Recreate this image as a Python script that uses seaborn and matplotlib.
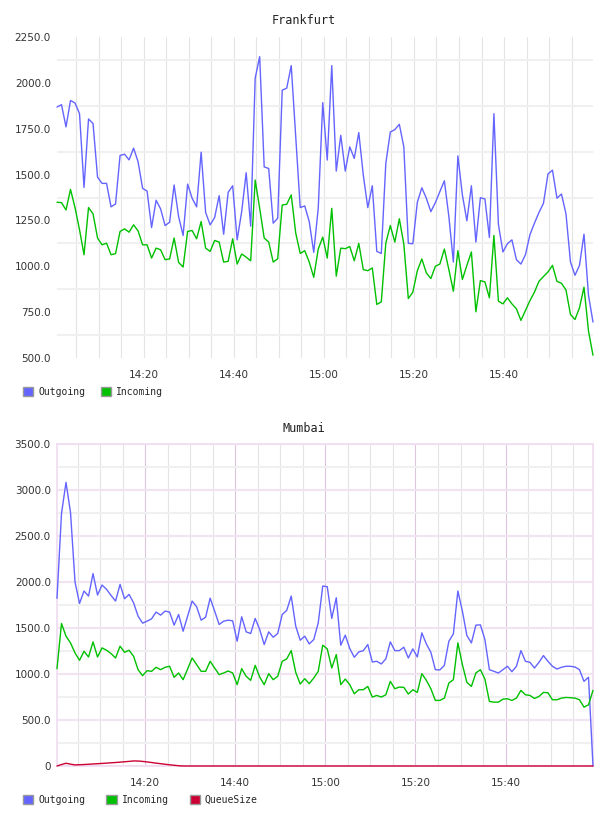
import matplotlib
matplotlib.use('Agg')
import matplotlib.pyplot as plt
import matplotlib.dates as mdates
from matplotlib.patches import Patch
from matplotlib.ticker import FixedLocator, FuncFormatter
from matplotlib.font_manager import FontProperties
import seaborn as sns
import pandas as pd

sns.set_style('white')
plt.rcParams['font.family'] = ['DejaVu Sans']

# ---------------- data ----------------
series_names = ['Outgoing', 'Incoming', 'QueueSize']
series_colors = ['#6464ff', '#00c000', '#cc0033']

fra_times = pd.date_range('2024-01-01 14:00:45', periods=120, freq='min')
mum_times = pd.date_range('2024-01-01 14:00:25', periods=120, freq='min')

fra_out = [1868, 1881, 1760, 1904, 1890, 1832, 1430, 1803, 1778, 1486,
           1452, 1452, 1324, 1340, 1604, 1611, 1580, 1644, 1570, 1425,
           1410, 1211, 1360, 1313, 1222, 1240, 1443, 1271, 1168, 1448,
           1371, 1324, 1622, 1293, 1226, 1266, 1385, 1175, 1403, 1439,
           1144, 1298, 1510, 1219, 2026, 2143, 1542, 1533, 1235, 1262,
           1960, 1971, 2094, 1707, 1320, 1329, 1244, 1076, 1316, 1892,
           1579, 2094, 1519, 1714, 1519, 1651, 1588, 1729, 1497, 1320,
           1439, 1081, 1070, 1561, 1732, 1745, 1774, 1651, 1125, 1123,
           1349, 1428, 1371, 1298, 1347, 1407, 1466, 1271, 1023, 1602,
           1389, 1248, 1439, 1132, 1374, 1367, 1157, 1832, 1229, 1078,
           1123, 1144, 1036, 1012, 1063, 1172, 1235, 1293, 1343, 1503,
           1524, 1371, 1394, 1286, 1023, 951, 1005, 1175, 842, 696]

fra_in = [1349, 1347, 1307, 1419, 1320, 1199, 1063, 1320, 1286, 1154,
          1117, 1126, 1063, 1069, 1190, 1204, 1186, 1226, 1193, 1117,
          1117, 1045, 1099, 1090, 1036, 1040, 1154, 1021, 996, 1190,
          1195, 1150, 1244, 1099, 1081, 1141, 1132, 1023, 1027, 1150,
          1012, 1067, 1050, 1030, 1470, 1316, 1154, 1132, 1023, 1041,
          1334, 1338, 1389, 1181, 1070, 1085, 1023, 940, 1094, 1159,
          1045, 1316, 946, 1099, 1096, 1108, 1030, 1125, 982, 976,
          991, 792, 806, 1126, 1222, 1132, 1259, 1121, 824, 859,
          976, 1040, 964, 933, 1000, 1012, 1094, 982, 864, 1085,
          928, 1005, 1078, 752, 922, 915, 828, 1168, 810, 795,
          828, 795, 768, 705, 759, 813, 859, 918, 944, 969,
          1005, 918, 907, 871, 737, 710, 774, 886, 647, 515]

mum_out = [1822, 2745, 3083, 2756, 2000, 1767, 1902, 1847, 2091, 1858,
           1967, 1920, 1854, 1793, 1974, 1818, 1865, 1774, 1629, 1553,
           1574, 1600, 1673, 1640, 1684, 1673, 1531, 1647, 1465, 1629,
           1793, 1731, 1585, 1618, 1825, 1684, 1538, 1574, 1585, 1578,
           1356, 1622, 1458, 1440, 1604, 1484, 1320, 1458, 1400, 1440,
           1647, 1691, 1847, 1520, 1367, 1411, 1327, 1374, 1556, 1956,
           1949, 1604, 1829, 1313, 1422, 1276, 1182, 1240, 1254, 1320,
           1131, 1138, 1109, 1164, 1349, 1254, 1254, 1291, 1174, 1273,
           1185, 1447, 1327, 1236, 1047, 1044, 1094, 1356, 1436, 1902,
           1684, 1418, 1338, 1531, 1534, 1374, 1047, 1029, 1011, 1047,
           1084, 1025, 1084, 1254, 1138, 1127, 1065, 1127, 1200, 1138,
           1084, 1054, 1073, 1084, 1084, 1076, 1047, 920, 964, 0]

mum_in = [1058, 1549, 1411, 1338, 1229, 1149, 1247, 1185, 1349, 1185,
          1284, 1258, 1222, 1174, 1302, 1236, 1258, 1193, 1047, 982,
          1036, 1029, 1073, 1047, 1073, 1084, 964, 1011, 938, 1054,
          1174, 1102, 1029, 1029, 1138, 1065, 993, 1011, 1033, 1011,
          884, 1058, 975, 931, 1094, 967, 884, 1004, 938, 975,
          1138, 1164, 1254, 1018, 891, 949, 895, 956, 1029, 1313,
          1273, 1065, 1211, 884, 945, 884, 785, 829, 829, 865,
          749, 767, 749, 774, 920, 840, 858, 855, 782, 829,
          800, 1004, 931, 840, 713, 713, 738, 902, 938, 1338,
          1102, 909, 865, 1011, 1047, 945, 702, 694, 694, 727,
          731, 713, 738, 822, 774, 767, 734, 756, 800, 796,
          720, 720, 738, 745, 742, 738, 720, 640, 665, 822]

mum_queue = [0, 16, 30, 20, 12, 14, 16, 19, 22, 25,
             28, 31, 35, 38, 42, 46, 50, 55, 54, 50,
             44, 38, 31, 25, 19, 13, 8, 3, 0, 0,
             0, 0, 0, 0, 0, 0, 0, 0, 0, 0,
             0, 0, 0, 0, 0, 0, 0, 0, 0, 0,
             0, 0, 0, 0, 0, 0, 0, 0, 0, 0,
             0, 0, 0, 0, 0, 0, 0, 0, 0, 0,
             0, 0, 0, 0, 0, 0, 0, 0, 0, 0,
             0, 0, 0, 0, 0, 0, 0, 0, 0, 0,
             0, 0, 0, 0, 0, 0, 0, 0, 0, 0,
             0, 0, 0, 0, 0, 0, 0, 0, 0, 0,
             0, 0, 0, 0, 0, 0, 0, 0, 0, 0]

fra_yticks = [500, 750, 1000, 1250, 1500, 1750, 2000, 2250]
mum_yticks = [0, 500, 1000, 1500, 2000, 2500, 3000, 3500]


def long_frame(times, cols):
    parts = []
    for name, vals in cols:
        parts.append(pd.DataFrame({'time': times, 'value': vals, 'series': name}))
    return pd.concat(parts, ignore_index=True)


fra_df = long_frame(fra_times, [('Outgoing', fra_out), ('Incoming', fra_in)])
mum_df = long_frame(mum_times, [('Outgoing', mum_out), ('Incoming', mum_in),
                                ('QueueSize', mum_queue)])

# ---------------- figure ----------------
W, H = 608, 816
fig = plt.figure(figsize=(W / 100, H / 100), dpi=100)
fig.patch.set_facecolor('white')


def fy(px):
    return 1 - px / H


ax1 = fig.add_axes([57 / W, fy(358), 536 / W, 321 / H])
ax2 = fig.add_axes([57 / W, fy(766), 536 / W, 322 / H])

mono = FontProperties(family='DejaVu Sans Mono', size=7)
palette = dict(zip(series_names, series_colors))


def yfmt(v, pos):
    return '0' if v == 0 else f'{v:.1f}'


def style(ax, df, times, yticks, pink):
    sns.lineplot(data=df, x='time', y='value', hue='series', palette=palette,
                 ax=ax, legend=False, linewidth=1.0, estimator=None,
                 sort=False)
    for ln in ax.lines:
        ln.set_clip_on(False)
        ln.set_zorder(4)
    ax.set_xlim(times[0], times[-1])
    ax.set_ylim(yticks[0], yticks[-1])
    ax.set_xlabel('')
    ax.set_ylabel('')
    ax.yaxis.set_major_locator(FixedLocator(yticks))
    mids = [(a + b) / 2 for a, b in zip(yticks[:-1], yticks[1:])]
    ax.yaxis.set_minor_locator(FixedLocator(mids))
    ax.yaxis.set_major_formatter(FuncFormatter(yfmt))
    ax.xaxis.set_major_locator(mdates.MinuteLocator(byminute=[0, 20, 40]))
    ax.xaxis.set_minor_locator(mdates.MinuteLocator(byminute=range(0, 60, 5)))
    ax.xaxis.set_major_formatter(mdates.DateFormatter('%H:%M'))
    ax.tick_params(axis='both', which='both', length=0)
    ax.tick_params(axis='y', pad=4.5, labelsize=7.5, labelcolor='#333333')
    ax.tick_params(axis='x', pad=8.5, labelsize=7.5, labelcolor='#333333')
    ax.set_axisbelow(True)
    ax.grid(False)
    ax.grid(which='minor', axis='y', color='#f0f0f0', linewidth=1.5)
    ax.grid(which='minor', axis='x', color='#e4e4e4', linewidth=0.8)
    if pink:
        ax.grid(which='major', axis='y', color='#f2e3f2', linewidth=1.5)
        ax.grid(which='major', axis='x', color='#dcc6dc', linewidth=0.8)
        for s in ax.spines.values():
            s.set_visible(True)
            s.set_color('#f0dcf0')
            s.set_linewidth(1.2)
            s.set_zorder(1)
    else:
        ax.grid(which='major', axis='x', color='#e4e4e4', linewidth=0.8)
        for s in ax.spines.values():
            s.set_visible(False)


style(ax1, fra_df, fra_times, fra_yticks, pink=False)
style(ax2, mum_df, mum_times, mum_yticks, pink=True)

fig.text(0.5, fy(20), 'Frankfurt', ha='center', va='center',
         family='DejaVu Sans Mono', size=8.5, color='#222222')
fig.text(0.5, fy(428), 'Mumbai', ha='center', va='center',
         family='DejaVu Sans Mono', size=8.5, color='#222222')


def legend(ax, names, ypx, colsp):
    handles = [Patch(facecolor=palette[n], edgecolor='#999999', linewidth=1.0)
               for n in names]
    ax.legend(handles, names, loc='center left',
              bbox_to_anchor=(23 / W, fy(ypx)), bbox_transform=fig.transFigure,
              ncol=len(names), frameon=False, handlelength=1.05,
              handleheight=1.05, handletextpad=0.5, columnspacing=colsp,
              borderpad=0, borderaxespad=0, prop=mono)


legend(ax1, ['Outgoing', 'Incoming'], 392, 1.6)
legend(ax2, ['Outgoing', 'Incoming', 'QueueSize'], 800, 2.2)

fig.savefig('out.png', dpi=100, facecolor='white')
